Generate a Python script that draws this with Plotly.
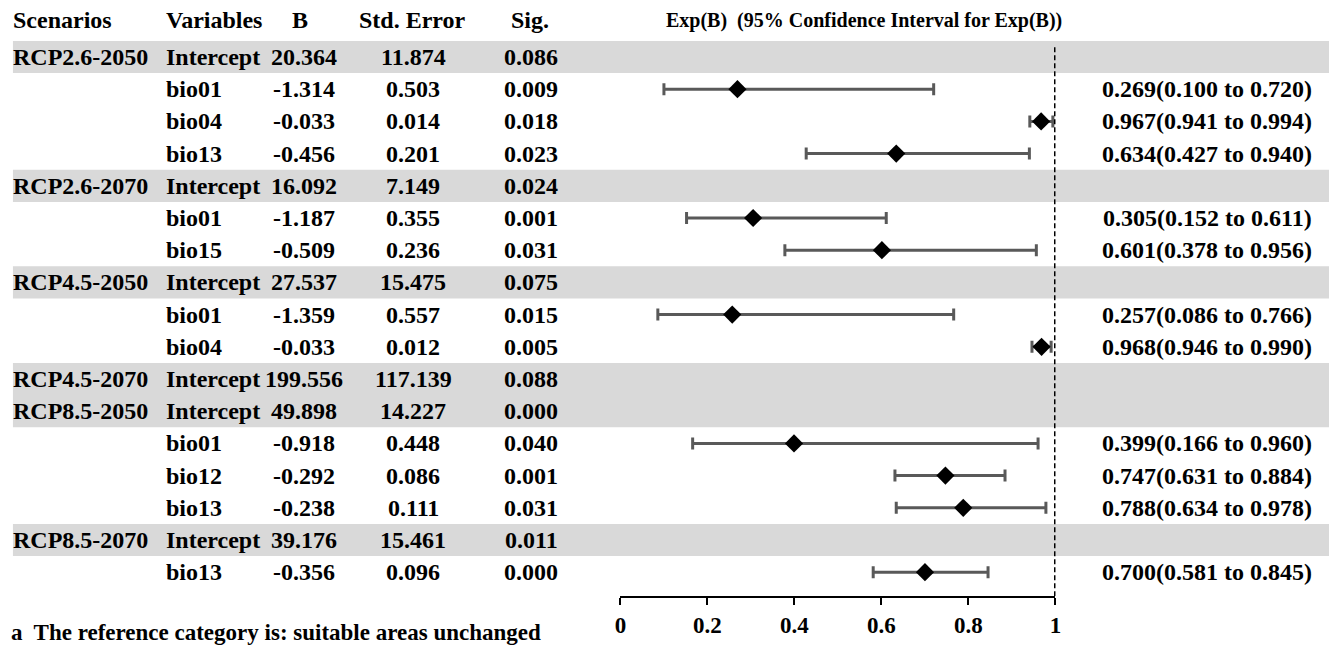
import plotly.graph_objects as go

W, H = 1335, 652

scenarios = ["RCP2.6-2050", "", "", "", "RCP2.6-2070", "", "", "RCP4.5-2050", "", "",
             "RCP4.5-2070", "RCP8.5-2050", "", "", "", "RCP8.5-2070", ""]
variables = ["Intercept", "bio01", "bio04", "bio13", "Intercept", "bio01", "bio15",
             "Intercept", "bio01", "bio04", "Intercept", "Intercept", "bio01", "bio12",
             "bio13", "Intercept", "bio13"]
b_vals = ["20.364", "-1.314", "-0.033", "-0.456", "16.092", "-1.187", "-0.509",
          "27.537", "-1.359", "-0.033", "199.556", "49.898", "-0.918", "-0.292",
          "-0.238", "39.176", "-0.356"]
se_vals = ["11.874", "0.503", "0.014", "0.201", "7.149", "0.355", "0.236",
           "15.475", "0.557", "0.012", "117.139", "14.227", "0.448", "0.086",
           "0.111", "15.461", "0.096"]
sig_vals = ["0.086", "0.009", "0.018", "0.023", "0.024", "0.001", "0.031",
            "0.075", "0.015", "0.005", "0.088", "0.000", "0.040", "0.001",
            "0.031", "0.011", "0.000"]
exp_b = [None, 0.269, 0.967, 0.634, None, 0.305, 0.601, None, 0.257, 0.968,
         None, None, 0.399, 0.747, 0.788, None, 0.700]
ci_low = [None, 0.100, 0.941, 0.427, None, 0.152, 0.378, None, 0.086, 0.946,
          None, None, 0.166, 0.631, 0.634, None, 0.581]
ci_high = [None, 0.720, 0.994, 0.940, None, 0.611, 0.956, None, 0.766, 0.990,
           None, None, 0.960, 0.884, 0.978, None, 0.845]
headers = ["Scenarios", "Variables", "B", "Std. Error", "Sig.",
           "Exp(B)\u00a0 (95% Confidence Interval for Exp(B))"]
tick_vals = [0, 0.2, 0.4, 0.6, 0.8, 1]
tick_text = ["0", "0.2", "0.4", "0.6", "0.8", "1"]
footnote = "a\u00a0 The reference category is: suitable areas unchanged"

FONT = "Liberation Serif"
FS = 24
n = len(variables)
rows = list(range(n))

# pixel geometry
ROW0, PITCH = 57, 32.2
AXIS_Y = 596
PAD = 7  # annotation inner padding compensation
y_top = (0 - ROW0) / PITCH
y_bot = (AXIS_Y - ROW0) / PITCH

def px(x):
    return x / W

idx = [i for i in rows if exp_b[i] is not None]
xs = [exp_b[i] for i in idx]
ys = [i for i in idx]
plus = [ci_high[i] - exp_b[i] for i in idx]
minus = [exp_b[i] - ci_low[i] for i in idx]

fig = go.Figure()
fig.add_trace(go.Scatter(
    x=xs, y=ys, mode="markers",
    marker=dict(symbol="diamond", size=14, color="black"),
    error_x=dict(type="data", symmetric=False, array=plus, arrayminus=minus,
                 color="#595959", thickness=3, width=6),
    cliponaxis=False, showlegend=False, hoverinfo="skip",
))

shapes = []
for i in rows:
    if variables[i] == "Intercept":
        shapes.append(dict(type="rect", xref="paper", yref="y", x0=px(7), x1=1,
                           y0=i - 0.5, y1=i + 0.5, fillcolor="#d9d9d9",
                           line=dict(width=0), layer="below"))
shapes.append(dict(type="line", xref="x", yref="y", x0=1, x1=1, y0=-0.3, y1=y_bot,
                   line=dict(color="black", width=3, dash="5px,3px")))

ann = []
def add(text, x, y, anchor, yref="y", size=FS):
    if anchor == "left":
        x -= PAD
    elif anchor == "right":
        x += PAD
    ann.append(dict(text=text, x=px(x), y=y, xref="paper", yref=yref,
                    xanchor=anchor, yanchor="middle", showarrow=False,
                    font=dict(family=FONT, size=size, color="black")))

hy = (20 - ROW0) / PITCH
add("<b>%s</b>" % headers[0], 12, hy, "left")
add("<b>%s</b>" % headers[1], 166, hy, "left")
add("<b>%s</b>" % headers[2], 297, hy, "center")
add("<b>%s</b>" % headers[3], 410, hy, "center")
add("<b>%s</b>" % headers[4], 529, hy, "center")
add("<b>%s</b>" % headers[5], 866, hy, "center", size=20)

for i in rows:
    if scenarios[i]:
        add("<b>%s</b>" % scenarios[i], 12, i, "left")
    add("<b>%s</b>" % variables[i], 166, i, "left")
    add("<b>%s</b>" % b_vals[i], 301, i, "center")
    add("<b>%s</b>" % se_vals[i], 411, i, "center")
    add("<b>%s</b>" % sig_vals[i], 530, i, "center")
    if exp_b[i] is not None:
        add("<b>%.3f(%.3f to %.3f)</b>" % (exp_b[i], ci_low[i], ci_high[i]), 1313, i, "right")

add("<b>%s</b>" % footnote, 10, (H - 632) / H, "left", yref="paper", size=23)

fig.update_layout(
    width=W, height=H, margin=dict(l=0, r=0, t=0, b=0),
    font=dict(family=FONT, size=FS, color="black"),
    paper_bgcolor="white", plot_bgcolor="rgba(0,0,0,0)",
    shapes=shapes, annotations=ann,
    xaxis=dict(domain=[px(620), px(1059)], range=[0, 1], showgrid=False, zeroline=False,
               showline=True, linecolor="black", linewidth=2, ticks="outside",
               ticklen=7, tickwidth=2, tickcolor="black",
               tickvals=tick_vals, ticktext=["<b>%s</b>" % t for t in tick_text],
               tickfont=dict(family=FONT, size=23, color="black"), fixedrange=True),
    yaxis=dict(domain=[(H - AXIS_Y) / H, 1], range=[y_bot, y_top], visible=False,
               showgrid=False, zeroline=False, fixedrange=True),
)

fig.write_html("out.html")
